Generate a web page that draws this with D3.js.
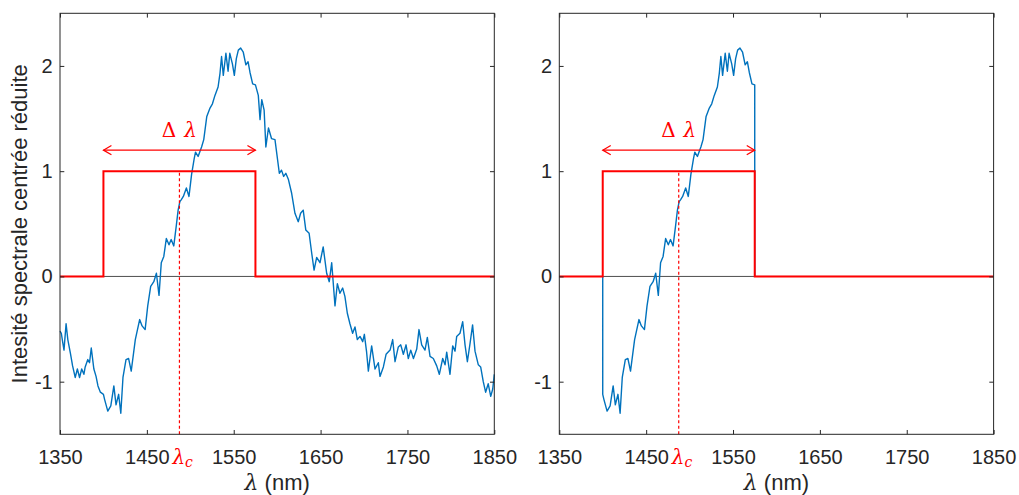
<!DOCTYPE html>
<html><head><meta charset="utf-8">
<script src="https://cdn.jsdelivr.net/npm/d3@7"></script>
<style>body{margin:0;background:#fff}svg{display:block}</style>
</head><body>
<svg id="chart" width="1019" height="495"></svg>
<script>
// ---- data ----
const wavelengths = [1350,1351.5,1353,1354.6,1357,1359,1362,1364.5,1367.5,1370,1372.5,1375,1377.5,1379,1382,1384,1386,1389,1391.5,1393.7,1396.5,1400,1401.4,1405,1408.5,1412,1414.5,1417.5,1420,1422.5,1426,1429,1432,1436.7,1441.7,1444.5,1448,1451,1454.4,1458,1461,1464,1466.6,1469.5,1472.4,1475.5,1478,1481,1484,1486,1488,1489.7,1492,1495.5,1498.5,1501.5,1504.5,1506,1509,1513,1515.5,1519,1522.7,1525.5,1528.4,1532,1534.2,1536,1538,1541,1543.5,1545.5,1548.5,1550.7,1553,1555.3,1558,1561,1564,1566.5,1568.7,1571.8,1575,1578.3,1580.3,1582.3,1585,1587,1590,1593.5,1597.5,1602.5,1605,1607.5,1610,1613,1616.7,1620.5,1624.3,1627,1630,1633,1636.8,1639.8,1642.5,1645.5,1649.3,1653,1657,1660,1662.8,1666.6,1669.3,1672.3,1675.4,1678,1680.8,1683.8,1686.9,1689.6,1692.3,1695.4,1698.5,1700.4,1703,1705,1708.8,1712.7,1716.5,1718.4,1722.3,1725.4,1730,1733,1735.7,1739.5,1742.3,1745.3,1748.4,1751,1753.8,1756.9,1760.7,1763.3,1766.4,1770.2,1772.9,1776,1779.8,1783.7,1786.7,1790.6,1793.3,1795.2,1799,1802.1,1804.8,1806.7,1810.5,1813.6,1816.3,1819,1822,1825,1827.8,1831.6,1834.3,1837.3,1840,1843,1845.9,1848.2,1850];
const intensities = [-0.52,-0.54,-0.62,-0.70,-0.45,-0.60,-0.73,-0.85,-0.96,-0.88,-0.96,-0.88,-0.93,-0.86,-0.79,-0.82,-0.68,-0.88,-0.95,-1.04,-1.10,-1.12,-1.17,-1.28,-1.23,-1.04,-1.22,-1.12,-1.30,-0.96,-0.79,-0.78,-0.90,-0.60,-0.41,-0.47,-0.505,-0.28,-0.095,-0.05,0.03,-0.18,0.13,0.19,0.36,0.30,0.35,0.29,0.49,0.63,0.71,0.73,0.76,0.84,0.76,0.97,1.12,1.18,1.14,1.23,1.30,1.52,1.60,1.64,1.72,1.80,1.93,2.09,1.91,2.12,1.95,2.12,2.02,1.91,2.07,2.15,2.17,2.13,2.01,2.04,1.94,1.83,1.82,1.72,1.49,1.68,1.58,1.23,1.41,1.31,1.30,0.98,1.01,0.95,0.98,0.92,0.79,0.60,0.52,0.60,0.63,0.44,0.41,0.22,0.06,0.18,0.13,0.28,0.03,-0.05,0.13,-0.28,-0.07,-0.16,-0.11,-0.19,-0.35,-0.45,-0.54,-0.48,-0.60,-0.57,-0.62,-0.55,-0.72,-0.90,-0.66,-0.88,-0.82,-0.95,-0.86,-0.74,-0.70,-0.60,-0.81,-0.67,-0.65,-0.74,-0.65,-0.78,-0.70,-0.78,-0.69,-0.505,-0.65,-0.70,-0.58,-0.76,-0.78,-0.85,-0.93,-0.78,-0.84,-0.72,-0.93,-0.66,-0.71,-0.57,-0.54,-0.43,-0.65,-0.81,-0.64,-0.46,-0.71,-0.84,-0.86,-1.0,-1.1,-1.02,-1.14,-1.07,-0.93];
const xTicks = [1350, 1450, 1550, 1650, 1750, 1850];
const yTicks = [-1, 0, 1, 2];
const xDomain = [1350, 1850];
const yDomain = [-1.5, 2.5];
const windowStart = 1400, windowEnd = 1575, windowHeight = 1;
const lambdaC = 1487.5;
const arrowLevel = 1.2;
const yLabelText = "Intesité spectrale centrée réduite";

// ---- drawing ----
const svg = d3.select("#chart");
const W = 434.3, H = 421;
const x = d3.scaleLinear().domain(xDomain).range([0, W]);
const y = d3.scaleLinear().domain(yDomain).range([H, 0]);
const textCol = "#262626";
const full = wavelengths.map((w, i) => [w, intensities[i]]);
const windowed = [[windowStart, 0]]
  .concat(full.filter(d => d[0] >= windowStart && d[0] <= windowEnd))
  .concat([[windowEnd, 0]]);
const rectPts = [[xDomain[0],0],[windowStart,0],[windowStart,windowHeight],[windowEnd,windowHeight],[windowEnd,0],[xDomain[1],0]];
const line = d3.line().x(d => x(d[0])).y(d => y(d[1]));

const panels = [{tx: 60, ty: 13.3, data: full, ylabel: true},
                {tx: 559.3, ty: 13.3, data: windowed, ylabel: false}];

panels.forEach(p => {
  const g = svg.append("g").attr("transform", `translate(${p.tx},${p.ty})`);
  // zero line
  g.append("line").attr("x1", x(xDomain[0])).attr("x2", x(xDomain[1]))
    .attr("y1", y(0)).attr("y2", y(0)).attr("stroke", "#4d4d4d").attr("stroke-width", 1);
  // blue signal
  g.append("path").datum(p.data).attr("d", line).attr("fill", "none")
    .attr("stroke", "#0072BD").attr("stroke-width", 1.4).attr("stroke-linejoin", "round");
  // red window
  g.append("path").datum(rectPts).attr("d", line).attr("fill", "none")
    .attr("stroke", "#ff0000").attr("stroke-width", 2);
  // dashed centre line
  g.append("line").attr("x1", x(lambdaC)).attr("x2", x(lambdaC))
    .attr("y1", y(yDomain[0])).attr("y2", y(windowHeight))
    .attr("stroke", "#ff0000").attr("stroke-width", 1.2).attr("stroke-dasharray", "3,2.5");
  // double arrow
  const ay = y(arrowLevel), ax0 = x(windowStart), ax1 = x(windowEnd);
  const ar = g.append("g").attr("stroke", "#ff0000").attr("stroke-width", 1.2).attr("fill", "none");
  ar.append("line").attr("x1", ax0).attr("x2", ax1).attr("y1", ay).attr("y2", ay);
  ar.append("path").attr("d", `M${ax0+8},${ay-4.7}L${ax0},${ay}L${ax0+8},${ay+4.7}`);
  ar.append("path").attr("d", `M${ax1-8},${ay-4.7}L${ax1},${ay}L${ax1-8},${ay+4.7}`);
  const dl = g.append("text").attr("x", x(lambdaC)).attr("y", ay - 13)
    .attr("text-anchor", "middle").attr("fill", "#ff0000").attr("font-size", 20);
  dl.append("tspan").attr("font-family", "DejaVu Serif").text("Δ");
  dl.append("tspan").attr("font-family", "DejaVu Serif").attr("font-style", "italic").attr("dx", 8).text("λ");

  // axes
  const fmt = d => (d < 0 ? "-" + Math.abs(d) : String(d));
  const bottom = g.append("g").attr("transform", `translate(0,${H})`)
    .call(d3.axisBottom(x).tickValues(xTicks).tickFormat(d => String(d)).tickSize(-4.3).tickSizeOuter(0).tickPadding(15.5));
  const left = g.append("g")
    .call(d3.axisLeft(y).tickValues(yTicks).tickFormat(fmt).tickSize(-4.3).tickSizeOuter(0).tickPadding(7.3));
  const top = g.append("g")
    .call(d3.axisTop(x).tickValues(xTicks).tickSize(-4.3).tickSizeOuter(0).tickFormat(""));
  const right = g.append("g").attr("transform", `translate(${W},0)`)
    .call(d3.axisRight(y).tickValues(yTicks).tickSize(-4.3).tickSizeOuter(0).tickFormat(""));
  [bottom, left, top, right].forEach(a => {
    a.select(".domain").remove();
    a.selectAll(".tick line").attr("stroke", textCol).attr("stroke-width", 1);
    a.selectAll("text").attr("fill", textCol).attr("font-family", "Liberation Sans, Arial, sans-serif").attr("font-size", 20);
  });
  // frame
  g.append("rect").attr("x", 0).attr("y", 0).attr("width", W).attr("height", H)
    .attr("fill", "none").attr("stroke", textCol).attr("stroke-width", 1);

  // lambda_c label
  const lc = g.append("text").attr("x", x(lambdaC) - 7).attr("y", H + 29.5)
    .attr("fill", "#ff0000").attr("font-family", "DejaVu Serif").attr("font-style", "italic").attr("font-size", 20);
  lc.append("tspan").text("λ");
  lc.append("tspan").attr("font-size", 14).attr("dy", 3).text("c");

  // x label
  const xl = g.append("text").attr("x", W / 2).attr("y", 490 - p.ty)
    .attr("text-anchor", "middle").attr("fill", textCol)
    .attr("font-family", "Liberation Sans, Arial, sans-serif").attr("font-size", 22);
  xl.append("tspan").attr("font-family", "DejaVu Serif").attr("font-style", "italic").text("λ");
  xl.append("tspan").text(" (nm)");

  if (p.ylabel) {
    g.append("text").attr("transform", `translate(${27 - p.tx},${H / 2}) rotate(-90)`)
      .attr("text-anchor", "middle").attr("fill", textCol)
      .attr("font-family", "Liberation Sans, Arial, sans-serif").attr("font-size", 22)
      .text(yLabelText);
  }
});
</script>
</body></html>
